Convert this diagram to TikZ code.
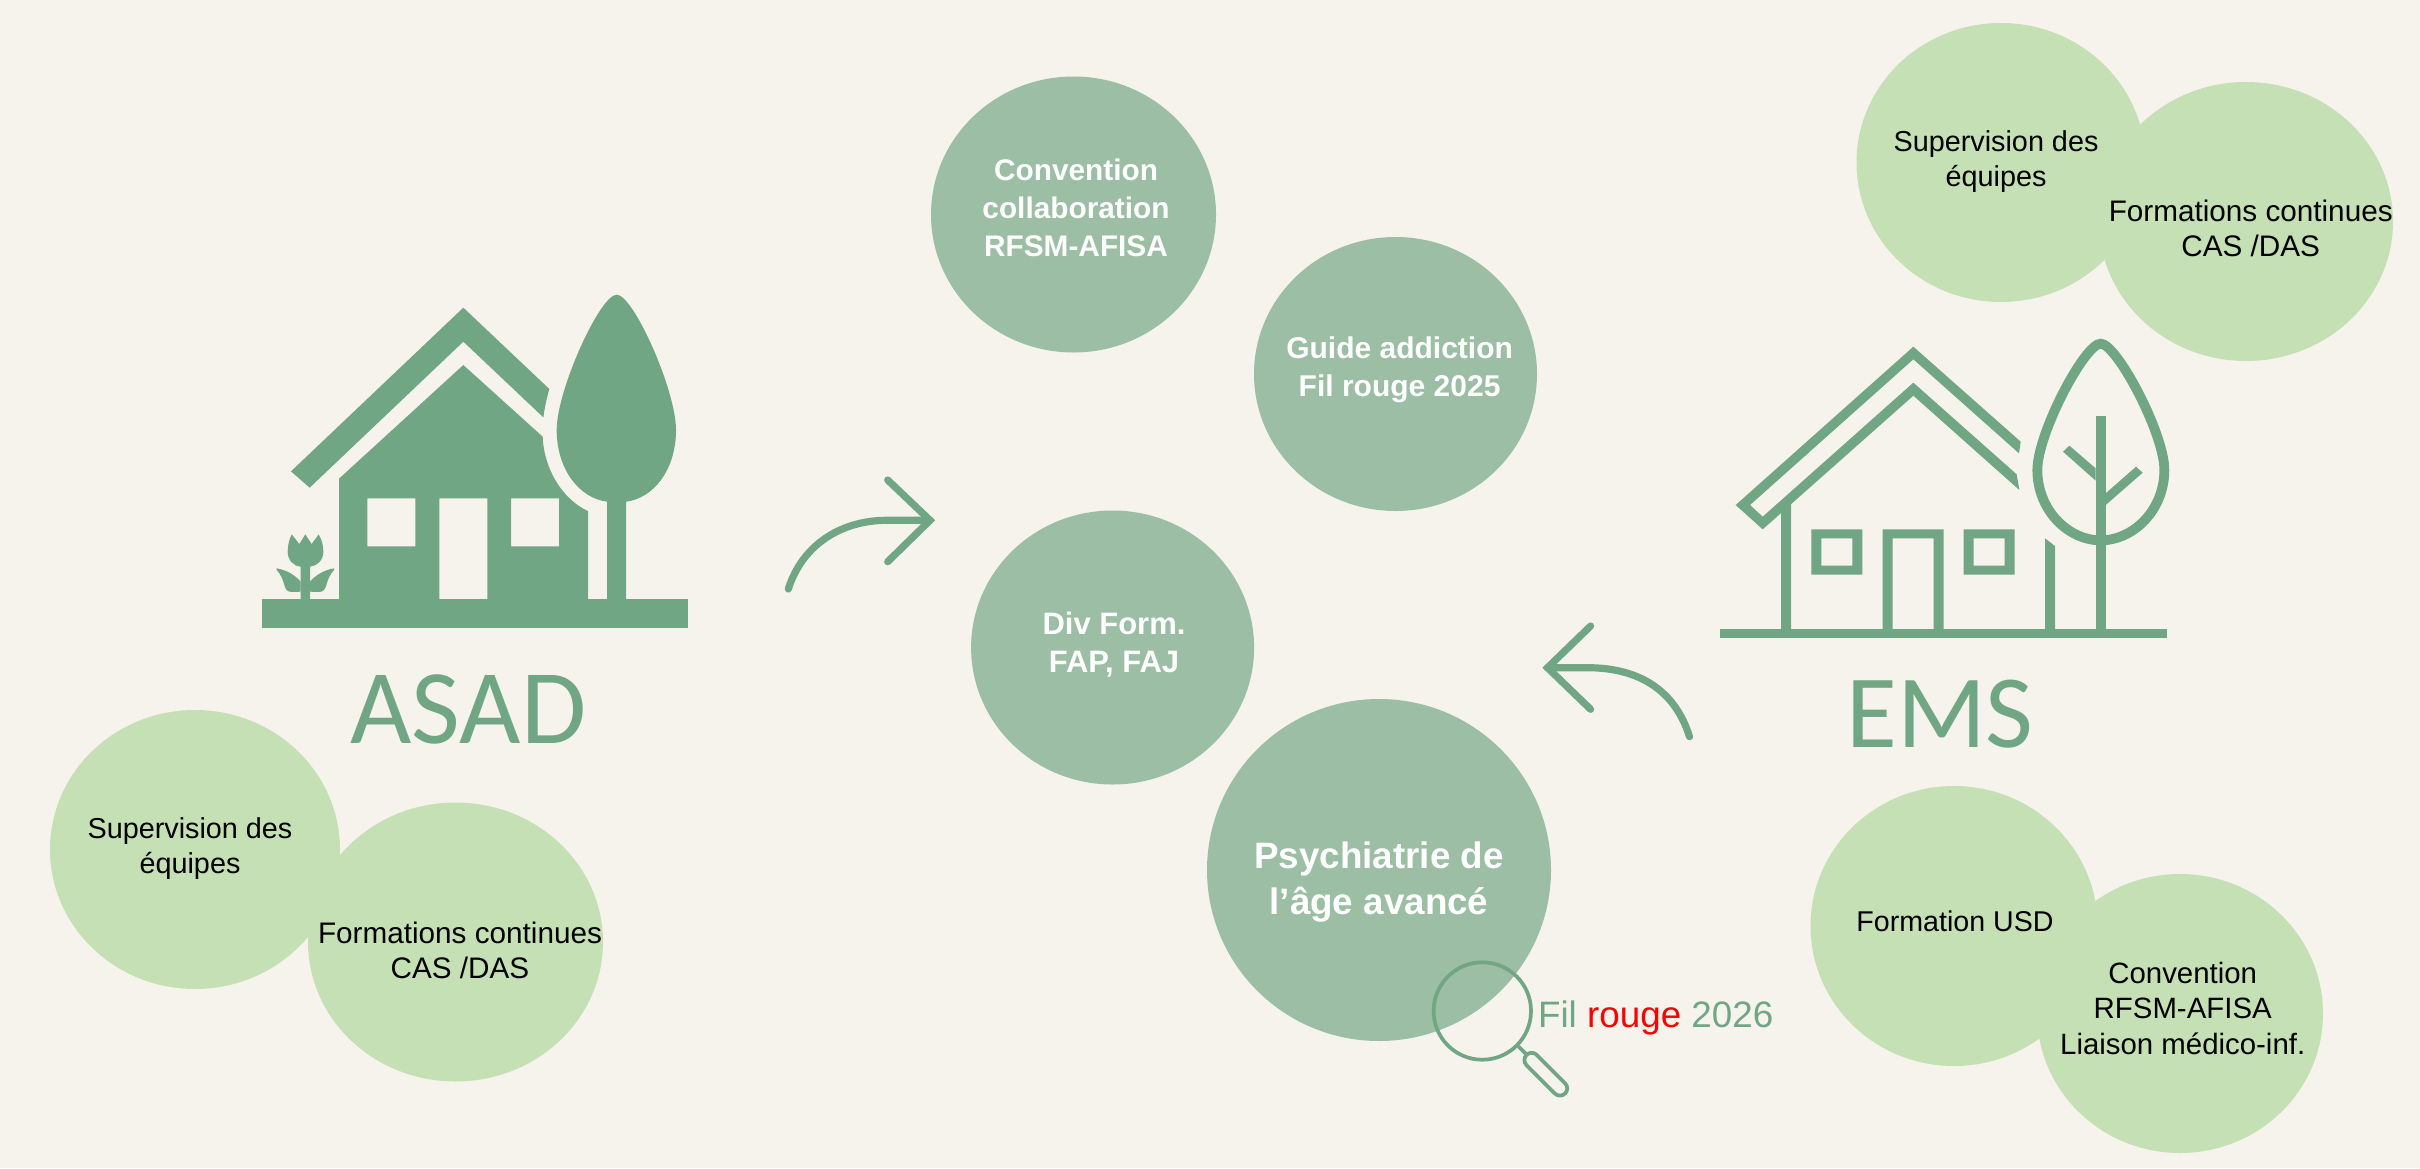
\documentclass[tikz,border=0pt]{standalone}
\usepackage{fontspec}
\setmainfont{Liberation Sans}
\newfontfamily\calibrilike{Carlito}
\usetikzlibrary{shapes.geometric}
\definecolor{bgc}{HTML}{F6F3ED}
\definecolor{icon}{HTML}{70A684}
\definecolor{darkc}{HTML}{9BBEA5}
\definecolor{lightc}{HTML}{C5E0B4}
\tikzset{
  blob/.style={ellipse,inner sep=0pt,outer sep=0pt,draw=none},
  lightblob/.style={blob,fill=lightc},
  darkblob/.style={blob,fill=darkc},
  lbl/.style={anchor=base,align=center,inner sep=0pt,outer sep=0pt},
  blacklbl/.style={lbl,text=black},
  whitelbl/.style={lbl,text=white},
  bigword/.style={lbl,text=icon},
  arrowline/.style={draw=icon,line width=3.6pt,line cap=round,line join=miter},
  lens/.style={draw=icon,line width=1.85pt},
}
\newcommand{\fs}[2]{\fontsize{#1}{#2}\selectfont}
\begin{document}
\begin{tikzpicture}[x=0.5pt,y=-0.5pt]
\useasboundingbox (0,0) rectangle (2420,1168);
\fill[bgc] (0,0) rectangle (2420,1168);

% light circles
\node[lightblob,minimum width=145pt,minimum height=139.5pt] (c1) at (195,849.5) {};
\node[lightblob,minimum width=147.5pt,minimum height=139.5pt] (c2) at (455.5,942) {};
\node[lightblob,minimum width=144.5pt,minimum height=139.5pt] (c3) at (2001,162.5) {};
\node[lightblob,minimum width=147pt,minimum height=139.5pt] (c4) at (2246,221.5) {};
\node[lightblob,minimum width=143.5pt,minimum height=140pt] (c5) at (1954,926) {};
\node[lightblob,minimum width=143pt,minimum height=139.5pt] (c6) at (2180,1013.5) {};
% dark circles
\node[darkblob,minimum width=142.5pt,minimum height=138pt] (d1) at (1073.5,214.5) {};
\node[darkblob,minimum width=141.5pt,minimum height=137pt] (d2) at (1395.5,374) {};
\node[darkblob,minimum width=141.5pt,minimum height=137pt] (d3) at (1112.6,647.5) {};
\node[darkblob,minimum width=172pt,minimum height=171pt] (d4) at (1379,870) {};

% labels
\node[blacklbl,font=\fs{14.4}{17.5}] (t1) at (190,873.3) {Supervision des\\équipes};
\node[blacklbl,font=\fs{14.85}{17.5}] (t2) at (460,978) {Formations continues\\CAS /DAS};
\node[blacklbl,font=\fs{14.4}{17.5}] (t3) at (1996,186.7) {Supervision des\\équipes};
\node[blacklbl,font=\fs{14.85}{17.5}] (t4) at (2250.7,256.7) {Formations continues\\CAS /DAS};
\node[blacklbl,font=\fs{14.3}{17.5}] (t5) at (1955,931.7) {Formation USD};
\node[blacklbl,font=\fs{14.7}{17.7}] (t6) at (2182.7,1054) {Convention\\RFSM-AFISA\\Liaison médico-inf.};
\node[whitelbl,font=\bfseries\fs{14.9}{19}] (t7) at (1076,256.7) {Convention\\collaboration\\RFSM-AFISA};
\node[whitelbl,font=\bfseries\fs{15}{19.3}] (t8) at (1399.6,396.7) {Guide addiction\\Fil rouge 2025};
\node[whitelbl,font=\bfseries\fs{15.5}{19}] (t9) at (1114,672) {Div Form.\\FAP, FAJ};
\node[whitelbl,font=\bfseries\fs{18.4}{23}] (t10) at (1379,914) {Psychiatrie de\\l’âge avancé};
\node[lbl,text=icon,font=\fs{18.4}{22}] (t11) at (1655.7,1027.7) {Fil \textcolor{red}{rouge} 2026};
\node[bigword,font=\calibrilike\fs{53}{60}] (asad) at (468.5,743) {ASAD};
\node[bigword,font=\calibrilike\fs{52}{60}] (ems) at (1940,747) {EMS};

% arrows
\coordinate (a1s) at (788.3,589);
\coordinate (a1m) at (886.7,520.3);
\coordinate (a1t) at (930,520.3);
\coordinate (a1u) at (887.7,480);
\coordinate (a1d) at (887.7,561.7);
\draw[arrowline] (a1s) .. controls (803,543) and (843,520.3) .. (a1m) -- (a1t);
\draw[arrowline] (a1u) -- (a1t) -- (a1d);
\coordinate (a2s) at (1689.5,736.7);
\coordinate (a2m) at (1587.7,667.7);
\coordinate (a2t) at (1547.5,667.7);
\coordinate (a2u) at (1590.6,626);
\coordinate (a2d) at (1590.6,709.3);
\draw[arrowline] (a2s) .. controls (1675,690) and (1638.6,667.7) .. (a2m) -- (a2t);
\draw[arrowline] (a2u) -- (a2t) -- (a2d);

% magnifier
\node[lens,circle,inner sep=0pt,minimum size=48.7pt,fill=none] (glass) at (1482.3,1011) {};
\coordinate (hs) at (1526,1054);
\draw[lens] (glass) -- (hs);
\draw[lens,rounded corners=3.6pt,rotate around={-45:(1545.8,1074.2)}]
  (1518.55,1066.95) rectangle (1573.05,1081.45);

% ASAD icon (local coordinates: 3 units per reference pixel)
\begin{scope}[shift={(120pt,-135pt)},x=0.16667pt,y=-0.16667pt]
  \fill[icon] (670,113) -- (928,357) .. controls (920,385) and (914,412) .. (910,442) -- (670,215) -- (209,653) -- (153,604) -- cycle;
  \fill[icon,even odd rule] (670,285) -- (908,500) .. controls (912,600) and (970,690) .. (1044,723) -- (1044,987) -- (297,987) -- (297,626) -- cycle
     (382,685) rectangle (526,829)
     (598,685) rectangle (742,987)
     (813,685) rectangle (957,829);
  \fill[icon] (66,987) rectangle (1345,1073);
  \fill[icon] (1130,74) .. controls (1180,74) and (1308,360) .. (1308,480)
     .. controls (1308,600) and (1240,685) .. (1158,695) -- (1158,987) -- (1101,987) -- (1101,695)
     .. controls (1020,685) and (950,600) .. (950,480)
     .. controls (950,360) and (1080,74) .. (1130,74) -- cycle;
  % tulip
  \fill[icon] (155,793) -- (178,822) -- (196,793) -- (215,822) -- (236,793)
     .. controls (246,810) and (250,828) .. (250,845)
     .. controls (250,870) and (232,888) .. (210,890) -- (210,987) -- (182,987) -- (182,890)
     .. controls (160,888) and (143,870) .. (143,845)
     .. controls (143,828) and (147,810) .. (155,793) -- cycle;
  \fill[icon] (110,895) .. controls (140,900) and (165,915) .. (182,935) -- (182,965) -- (155,966)
     .. controls (140,966) and (136,955) .. (133,945) .. controls (129,930) and (122,912) .. (110,900) -- cycle;
  \fill[icon] (282,895) .. controls (252,900) and (227,915) .. (210,935) -- (210,965) -- (237,966)
     .. controls (252,966) and (256,955) .. (259,945) .. controls (263,930) and (270,912) .. (282,900) -- cycle;
\end{scope}

% EMS icon (local coordinates: 3 units per reference pixel)
\begin{scope}[shift={(850pt,-160pt)},x=0.16667pt,y=-0.16667pt]
  \fill[icon] (640,80) -- (962,365) -- (957,400) -- (640,118) -- (150,555) -- (188,590) -- (640,188) -- (950,463) -- (958,510) -- (640,227) -- (188,628) -- (107,555) -- cycle;
  \fill[icon] (243,577) -- (273,551) -- (273,940) -- (243,940) -- cycle;
  \fill[icon,even odd rule] (334,628) rectangle (487,764) (364,655) rectangle (457,737);
  \fill[icon,even odd rule] (791,628) rectangle (944,764) (821,655) rectangle (914,737);
  \fill[icon] (548,940) -- (548,628) -- (731,628) -- (731,940) -- (701,940) -- (701,655) -- (578,655) -- (578,940) -- cycle;
  \fill[icon] (1035,655) -- (1065,678) -- (1065,940) -- (1035,940) -- cycle;
  \fill[icon] (1187,288) rectangle (1217,940);
  \fill[icon] (1108,377) -- (1089,395) -- (1187,482) -- (1187,445) -- cycle;
  \fill[icon] (1308,440) -- (1328,458) -- (1217,555) -- (1217,520) -- cycle;
  \fill[icon] (60,927) rectangle (1400,954);
  \draw[icon,line width=4.9pt] (1202,71) .. controls (1250,71) and (1393,340) .. (1393,450)
     .. controls (1393,570) and (1300,661) .. (1202,661)
     .. controls (1104,661) and (1012,570) .. (1012,450)
     .. controls (1012,340) and (1154,71) .. (1202,71) -- cycle;
\end{scope}
\end{tikzpicture}
\end{document}
